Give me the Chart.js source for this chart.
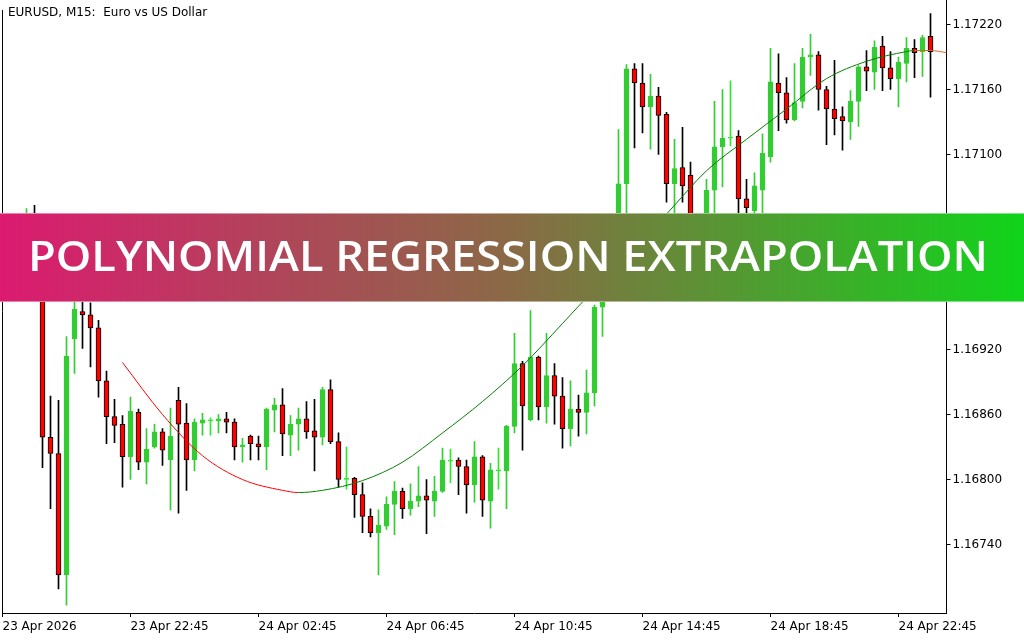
<!DOCTYPE html>
<html>
<head>
<meta charset="utf-8">
<title>EURUSD M15 - Polynomial Regression Extrapolation</title>
<script src="https://cdn.jsdelivr.net/npm/chart.js"></script>
<style>
  html, body { margin: 0; padding: 0; background: #fff; }
  #wrap { position: relative; width: 1024px; height: 640px; overflow: hidden; }
  #chart { position: absolute; left: 0; top: 0; }
  #title {
    position: absolute; left: 8px; top: 5px;
    font: 12px "DejaVu Sans", sans-serif; line-height: 14px;
    white-space: pre; color: #000;
  }
  #banner {
    position: absolute; left: 0; top: 213px; width: 1024px; height: 89px;
    box-sizing: border-box;
    background: linear-gradient(to right, #dc1a70 0%, #8a6a46 50%, #10d41a 100%);
    border-top: 1px solid rgba(255, 255, 255, 0.45);
    border-bottom: 1px solid rgba(255, 255, 255, 0.45);
  }
  #banner span {
    position: absolute; left: 28px; top: 20px;
    font-family: "Open Sans", sans-serif; font-weight: 600; font-size: 42px; line-height: 42px;
    color: #fff; white-space: nowrap; transform-origin: 0 0;
  }
</style>
</head>
<body>
<div id="wrap">
  <canvas id="chart" width="1024" height="640"></canvas>
  <div id="title">EURUSD, M15:  Euro vs US Dollar</div>
  <div id="banner"><span id="bannerText">POLYNOMIAL REGRESSION EXTRAPOLATION</span></div>
</div>
<script>
// Velas M15 (precios, una entrada por vela)
const opens = [
  1.17012, 1.16998, 1.17017, 1.17003, 1.17030, 1.17012, 1.16839, 1.16824, 1.16712, 1.16930,
  1.16955, 1.16952, 1.16940, 1.16891, 1.16858, 1.16851, 1.16821, 1.16862, 1.16816, 1.16830,
  1.16844, 1.16818, 1.16873, 1.16852, 1.16818, 1.16852, 1.16854, 1.16854, 1.16856, 1.16853,
  1.16830, 1.16840, 1.16833, 1.16830, 1.16864, 1.16869, 1.16841, 1.16851, 1.16856, 1.16845,
  1.16839, 1.16883, 1.16835, 1.16800, 1.16801, 1.16786, 1.16766, 1.16751, 1.16757, 1.16777,
  1.16789, 1.16773, 1.16780, 1.16785, 1.16780, 1.16789, 1.16817, 1.16818, 1.16812, 1.16795,
  1.16821, 1.16780, 1.16808, 1.16808, 1.16849, 1.16907, 1.16855, 1.16913, 1.16867, 1.16896,
  1.16877, 1.16847, 1.16865, 1.16862, 1.16880, 1.16959, 1.16998, 1.17021, 1.17073, 1.17179,
  1.17166, 1.17144, 1.17154, 1.17137, 1.17073, 1.17088, 1.17081, 1.17021, 1.17014, 1.17067,
  1.17107, 1.17115, 1.17117, 1.17059, 1.17048, 1.17067, 1.17098, 1.17166, 1.17157, 1.17132,
  1.17149, 1.17190, 1.17192, 1.17160, 1.17142, 1.17135, 1.17130, 1.17149, 1.17181, 1.17176,
  1.17200, 1.17180, 1.17170, 1.17184, 1.17198, 1.17195, 1.17209
];
const highs = [
  1.17021, 1.17026, 1.17028, 1.17050, 1.17053, 1.17021, 1.16877, 1.16873, 1.16932, 1.16968,
  1.16966, 1.16963, 1.16947, 1.16900, 1.16874, 1.16859, 1.16876, 1.16865, 1.16847, 1.16851,
  1.16847, 1.16866, 1.16885, 1.16870, 1.16856, 1.16861, 1.16857, 1.16860, 1.16862, 1.16856,
  1.16838, 1.16841, 1.16840, 1.16866, 1.16875, 1.16884, 1.16859, 1.16866, 1.16872, 1.16874,
  1.16885, 1.16892, 1.16843, 1.16830, 1.16802, 1.16797, 1.16773, 1.16772, 1.16784, 1.16798,
  1.16792, 1.16796, 1.16812, 1.16800, 1.16803, 1.16829, 1.16828, 1.16820, 1.16818, 1.16835,
  1.16822, 1.16815, 1.16829, 1.16850, 1.16935, 1.16909, 1.16956, 1.16914, 1.16935, 1.16907,
  1.16894, 1.16891, 1.16878, 1.16901, 1.16961, 1.17012, 1.17035, 1.17123, 1.17183, 1.17184,
  1.17184, 1.17174, 1.17162, 1.17139, 1.17114, 1.17125, 1.17093, 1.17038, 1.17077, 1.17149,
  1.17160, 1.17168, 1.17122, 1.17077, 1.17083, 1.17119, 1.17198, 1.17193, 1.17171, 1.17184,
  1.17198, 1.17211, 1.17195, 1.17163, 1.17187, 1.17144, 1.17159, 1.17182, 1.17196, 1.17205,
  1.17209, 1.17195, 1.17190, 1.17208, 1.17206, 1.17210, 1.17230
];
const lows = [
  1.16989, 1.16992, 1.16995, 1.16997, 1.17004, 1.16811, 1.16773, 1.16699, 1.16684, 1.16898,
  1.16921, 1.16904, 1.16876, 1.16833, 1.16834, 1.16793, 1.16800, 1.16809, 1.16796, 1.16829,
  1.16813, 1.16772, 1.16769, 1.16790, 1.16808, 1.16841, 1.16841, 1.16843, 1.16843, 1.16818,
  1.16816, 1.16818, 1.16818, 1.16809, 1.16844, 1.16822, 1.16822, 1.16827, 1.16838, 1.16808,
  1.16832, 1.16833, 1.16793, 1.16791, 1.16765, 1.16751, 1.16747, 1.16712, 1.16754, 1.16749,
  1.16764, 1.16767, 1.16775, 1.16750, 1.16766, 1.16788, 1.16797, 1.16786, 1.16769, 1.16779,
  1.16766, 1.16755, 1.16791, 1.16773, 1.16843, 1.16827, 1.16854, 1.16855, 1.16852, 1.16851,
  1.16829, 1.16831, 1.16840, 1.16842, 1.16868, 1.16932, 1.16980, 1.17012, 1.17044, 1.17106,
  1.17120, 1.17105, 1.17100, 1.17056, 1.17041, 1.17056, 1.17012, 1.17003, 1.17007, 1.17041,
  1.17070, 1.17108, 1.17038, 1.17035, 1.17038, 1.17041, 1.17093, 1.17122, 1.17129, 1.17131,
  1.17143, 1.17173, 1.17141, 1.17109, 1.17118, 1.17104, 1.17114, 1.17126, 1.17159, 1.17160,
  1.17159, 1.17160, 1.17144, 1.17167, 1.17171, 1.17172, 1.17153
];
const closes = [
  1.16998, 1.17017, 1.17003, 1.17030, 1.17012, 1.16839, 1.16824, 1.16712, 1.16914, 1.16957,
  1.16952, 1.16940, 1.16891, 1.16858, 1.16850, 1.16821, 1.16863, 1.16816, 1.16828, 1.16844,
  1.16827, 1.16840, 1.16851, 1.16818, 1.16853, 1.16855, 1.16855, 1.16856, 1.16853, 1.16830,
  1.16832, 1.16833, 1.16830, 1.16865, 1.16869, 1.16842, 1.16851, 1.16856, 1.16844, 1.16839,
  1.16883, 1.16835, 1.16800, 1.16801, 1.16786, 1.16766, 1.16751, 1.16758, 1.16777, 1.16789,
  1.16773, 1.16780, 1.16785, 1.16781, 1.16789, 1.16818, 1.16818, 1.16812, 1.16795, 1.16821,
  1.16781, 1.16809, 1.16809, 1.16849, 1.16907, 1.16868, 1.16913, 1.16867, 1.16896, 1.16877,
  1.16847, 1.16865, 1.16862, 1.16880, 1.16959, 1.16998, 1.17021, 1.17073, 1.17179, 1.17166,
  1.17144, 1.17154, 1.17136, 1.17073, 1.17087, 1.17071, 1.17021, 1.17014, 1.17067, 1.17107,
  1.17115, 1.17116, 1.17059, 1.17051, 1.17071, 1.17101, 1.17167, 1.17157, 1.17132, 1.17148,
  1.17190, 1.17192, 1.17160, 1.17142, 1.17133, 1.17131, 1.17149, 1.17181, 1.17177, 1.17199,
  1.17180, 1.17170, 1.17185, 1.17198, 1.17194, 1.17208, 1.17195
];

// Curva de regresión polinómica (índice de vela -> precio)
const regIndex = [15, 20, 25, 30, 35, 37, 40, 45, 50, 55, 60, 65, 70, 72, 83, 88, 93, 98, 103, 108, 113, 114, 116, 118];
const regValue = [
  1.16908, 1.16860, 1.16822, 1.16800, 1.16790, 1.16788, 1.16790, 1.16799, 1.16816, 1.16843,
  1.16872, 1.16905, 1.16944, 1.16960, 1.17045, 1.17085, 1.17114, 1.17142, 1.17170, 1.17186,
  1.17195, 1.17196, 1.17196, 1.17194
];
const extrapFrom = 114; // desde aquí la curva es extrapolación

// Ejes
const xTickLabels = ["23 Apr 2026", "23 Apr 22:45", "24 Apr 02:45", "24 Apr 06:45",
                     "24 Apr 10:45", "24 Apr 14:45", "24 Apr 18:45", "24 Apr 22:45"];
const xTickEvery = 16;   // 16 velas de 15 min = 4 horas
const yTicks = [1.16740, 1.16800, 1.16860, 1.16920, 1.16980, 1.17040, 1.17100, 1.17160, 1.17220];
const yMin = 1.166768;
const yMax = 1.172426;
const slots = 119;       // 117 velas + 2 de extrapolación

const BULL = "#32cd32";
const BEAR = "#ff0000";
const DOJI = "#2ee82e";

function initChart() {
    const labels = Array.from({ length: slots }, (_, i) => i);

    const isDoji = i => Math.abs(closes[i] - opens[i]) < 0.000015;
    const isBull = i => closes[i] >= opens[i];

    const bodyFill = opens.map((_, i) => isDoji(i) ? DOJI : (isBull(i) ? BULL : BEAR));
    const bodyBorder = opens.map((_, i) => isDoji(i) ? DOJI : (isBull(i) ? BULL : "#000000"));
    const wickColor = opens.map((_, i) => isDoji(i) ? DOJI : (isBull(i) ? BULL : "#000000"));

    const font = { family: "DejaVu Sans", size: 12 };

    // Marco izquierdo del gráfico
    const leftFrame = {
        id: "leftFrame",
        afterDraw(chart) {
            const { ctx, chartArea } = chart;
            ctx.save();
            ctx.strokeStyle = "#000";
            ctx.lineWidth = 1;
            ctx.beginPath();
            ctx.moveTo(chartArea.left, 10);
            ctx.lineTo(chartArea.left, chartArea.bottom);
            ctx.stroke();
            ctx.restore();
        }
    };

    new Chart(document.getElementById("chart"), {
        type: "bar",
        data: {
            labels,
            datasets: [
                {
                    type: "line",
                    data: regIndex.map((x, i) => ({ x, y: regValue[i] })),
                    borderColor: "#008000",
                    borderWidth: 1,
                    pointRadius: 0,
                    cubicInterpolationMode: "monotone",
                    segment: {
                        borderColor: ctx => {
                            if (regIndex[ctx.p0DataIndex] >= extrapFrom) return "#d2691e";
                            return ctx.p1.parsed.y < ctx.p0.parsed.y ? "#ff0000" : "#008000";
                        }
                    },
                    order: 0
                },
                {
                    data: opens.map((o, i) => [o, closes[i]]),
                    backgroundColor: bodyFill,
                    borderColor: bodyBorder,
                    borderWidth: 1,
                    borderSkipped: false,
                    barThickness: 5,
                    minBarLength: 1,
                    grouped: false,
                    order: 1
                },
                {
                    data: lows.map((l, i) => [l, highs[i]]),
                    backgroundColor: wickColor,
                    borderWidth: 0,
                    barThickness: 1,
                    grouped: false,
                    order: 2
                }
            ]
        },
        options: {
            responsive: false,
            animation: false,
            layout: { padding: { left: 2.5, top: 0, right: 0, bottom: 0 } },
            plugins: { legend: { display: false }, tooltip: { enabled: false } },
            scales: {
                x: {
                    type: "category",
                    offset: false,
                    grid: { display: true, offset: false, drawOnChartArea: false, drawTicks: true, tickLength: 4, color: "#000" },
                    border: { display: true, color: "#000" },
                    ticks: {
                        autoSkip: false, maxRotation: 0, minRotation: 0,
                        align: "start", padding: 2.5, color: "#000", font,
                        callback: v => xTickLabels[v / xTickEvery]
                    },
                    afterBuildTicks: s => { s.ticks = s.ticks.filter(t => t.value % xTickEvery === 0); },
                    afterFit: s => { s.height = 27; s.paddingLeft = 0; s.paddingRight = 0; }
                },
                y: {
                    type: "linear",
                    position: "right",
                    min: yMin,
                    max: yMax,
                    grid: { drawOnChartArea: false, drawTicks: true, tickLength: 4, color: "#000" },
                    border: { display: true, color: "#000" },
                    ticks: { padding: 2, color: "#000", font, callback: v => Number(v).toFixed(5) },
                    afterBuildTicks: s => { s.ticks = yTicks.map(v => ({ value: v })); },
                    afterFit: s => { s.width = 77.5; s.paddingTop = 0; s.paddingBottom = 0; }
                }
            }
        },
        plugins: [leftFrame]
    });

    // Ajusta el texto del banner al ancho de la referencia
    const span = document.getElementById("bannerText");
    const w = span.getBoundingClientRect().width;
    if (w > 0) span.style.transform = "scaleX(" + (960 / w) + ")";
}

initChart();
</script>
</body>
</html>
